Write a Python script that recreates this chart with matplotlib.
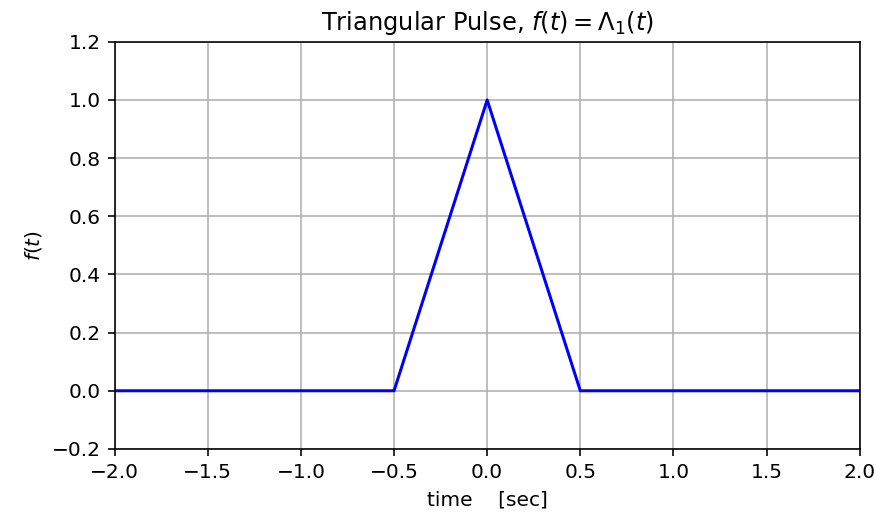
import matplotlib
matplotlib.use("Agg")
import matplotlib.pyplot as plt

# Stützstellen des Dreiecksimpulses
t = [-2.0, -0.5, 0.0, 0.5, 2.0]
f = [0.0, 0.0, 1.0, 0.0, 0.0]

DPI = 145
fig = plt.figure(figsize=(889 / DPI, 516 / DPI), dpi=DPI)
ax = fig.add_axes([0.129, 0.130, 0.838, 0.789])
ax.plot(t, f, color="blue")
ax.set_xlim(-2, 2)
ax.set_ylim(-0.2, 1.2)
ax.grid(True)
ax.set_title(r"Triangular Pulse, $f(t)=\Lambda_1(t)$")
ax.set_xlabel("time    [sec]")
ax.set_ylabel(r"$f(t)$")
fig.savefig("out.png", dpi=DPI)
